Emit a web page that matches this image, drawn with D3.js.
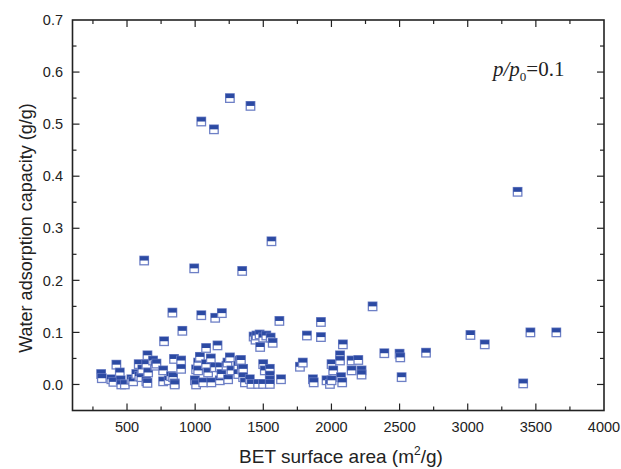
<!DOCTYPE html>
<html>
<head>
<meta charset="utf-8">
<script src="https://cdn.jsdelivr.net/npm/d3@7"></script>
<style>
  html, body { margin: 0; padding: 0; background: #fff; }
  svg { display: block; }
</style>
</head>
<body>
<svg id="chart" width="621" height="469"></svg>
<script>
// BET surface area (m2/g)
const betArea = [
  310, 315, 385, 400, 422, 447, 454, 458, 484, 532, 545, 568, 586, 590, 605, 612, 626, 642, 642, 650, 655, 650, 691, 708, 716,
  765, 765, 772, 806, 823, 833, 838, 845, 850, 850, 897, 897, 906,
  993, 998, 1007, 1007, 1022, 1022, 1035, 1045, 1045, 1059, 1080, 1080, 1095, 1115, 1119, 1138, 1144, 1147, 1164, 1181, 1181, 1193, 1196, 1230, 1237, 1242, 1255, 1255,
  1266, 1316, 1316, 1328, 1336, 1342, 1345, 1352, 1352, 1365, 1401, 1406, 1413, 1429, 1443, 1450, 1462, 1473, 1477, 1499, 1499, 1499, 1511, 1522, 1548, 1548, 1548, 1548, 1554, 1560, 1569, 1618, 1630,
  1769, 1790, 1820, 1864, 1870, 1923, 1923, 1964, 1989, 2001, 2001, 2013, 2063, 2063, 2070, 2079, 2084, 2148, 2148, 2197, 2221, 2221, 2302,
  2388, 2500, 2505, 2515, 2694, 3020, 3125, 3366, 3407, 3460, 3650
];
// Water adsorption capacity (g/g) at p/p0 = 0.1
const waterUptake = [
  0.020, 0.012, 0.010, 0.005, 0.038, 0.023, 0.008, 0.000, 0.000, 0.010, 0.006, 0.020, 0.039, 0.016, 0.014, 0.029, 0.238, 0.039, 0.006, 0.056, 0.023, 0.003, 0.046, 0.036, 0.040,
  0.027, 0.006, 0.083, 0.008, 0.016, 0.138, 0.014, 0.049, 0.002, 0.000, 0.046, 0.030, 0.103,
  0.223, 0.008, 0.029, 0.000, 0.042, 0.027, 0.053, 0.505, 0.133, 0.004, 0.070, 0.039, 0.023, 0.050, 0.004, 0.490, 0.033, 0.128, 0.075, 0.033, 0.008, 0.020, 0.137, 0.036, 0.042, 0.010, 0.550, 0.052,
  0.027, 0.036, 0.020, 0.046, 0.047, 0.029, 0.218, 0.030, 0.014, 0.004, 0.010, 0.535, 0.001, 0.092, 0.086, 0.094, 0.001, 0.096, 0.072, 0.090, 0.039, 0.001, 0.027, 0.094, 0.030, 0.017, 0.008, 0.001, 0.090, 0.275, 0.080, 0.122, 0.010,
  0.034, 0.042, 0.094, 0.010, 0.004, 0.120, 0.091, 0.008, 0.001, 0.039, 0.008, 0.027, 0.056, 0.046, 0.014, 0.004, 0.077, 0.046, 0.027, 0.047, 0.027, 0.019, 0.150,
  0.060, 0.059, 0.052, 0.014, 0.061, 0.095, 0.077, 0.370, 0.002, 0.100, 0.100
];
const xMajorTicks = [500, 1000, 1500, 2000, 2500, 3000, 3500, 4000];
const xMinorTicks = [250, 750, 1250, 1750, 2250, 2750, 3250, 3750];
const yMajorTicks = [0.0, 0.1, 0.2, 0.3, 0.4, 0.5, 0.6, 0.7];
const yMinorTicks = [-0.05, 0.05, 0.15, 0.25, 0.35, 0.45, 0.55, 0.65];
const xTitle = "BET surface area (m";
const yTitle = "Water adsorption capacity (g/g)";

const points = betArea.map((x, i) => ({ x, y: waterUptake[i] }));

const svg = d3.select("#chart");
const pLeft = 72.5, pRight = 604, pTop = 20, pBottom = 410.5;
const x = d3.scaleLinear().domain([100, 4000]).range([pLeft, pRight]);
const y = d3.scaleLinear().domain([-0.05, 0.7]).range([pBottom, pTop]);

const font = "'Liberation Sans', Arial, Helvetica, sans-serif";
const textColor = "#222";
const majorLen = 7, minorLen = 4;

// ticks (inward, all four sides)
const tickG = svg.append("g").attr("stroke", "#222").attr("stroke-width", 1.2);
function hTicks(vals, len) {
  vals.forEach(v => {
    const px = x(v);
    tickG.append("line").attr("x1", px).attr("x2", px).attr("y1", pBottom).attr("y2", pBottom - len);
    tickG.append("line").attr("x1", px).attr("x2", px).attr("y1", pTop).attr("y2", pTop + len);
  });
}
function vTicks(vals, len) {
  vals.forEach(v => {
    const py = y(v);
    tickG.append("line").attr("x1", pLeft).attr("x2", pLeft + len).attr("y1", py).attr("y2", py);
    tickG.append("line").attr("x1", pRight).attr("x2", pRight - len).attr("y1", py).attr("y2", py);
  });
}
hTicks(xMajorTicks.filter(v => v < 4000), majorLen);
hTicks(xMinorTicks, minorLen);
vTicks(yMajorTicks.filter(v => v < 0.7), majorLen);
vTicks(yMinorTicks.filter(v => v > -0.05), minorLen);

// tick labels
svg.append("g").selectAll("text").data(xMajorTicks).join("text")
  .attr("x", d => x(d)).attr("y", 432)
  .attr("text-anchor", "middle")
  .attr("font-family", font).attr("font-size", 14.5).attr("fill", textColor)
  .text(d => d);
svg.append("g").selectAll("text").data(yMajorTicks).join("text")
  .attr("x", 63).attr("y", d => y(d)).attr("dy", "0.36em")
  .attr("text-anchor", "end")
  .attr("font-family", font).attr("font-size", 14.5).attr("fill", textColor)
  .text(d => d3.format(".1f")(d));

// axis titles
const xt = svg.append("text")
  .attr("x", 341).attr("y", 463)
  .attr("text-anchor", "middle")
  .attr("font-family", font).attr("font-size", 19).attr("fill", textColor);
xt.append("tspan").text(xTitle);
xt.append("tspan").attr("font-size", 12).attr("dy", -8).text("2");
xt.append("tspan").attr("dy", 8).text("/g)");

svg.append("text")
  .attr("transform", "translate(32,228) rotate(-90)")
  .attr("text-anchor", "middle")
  .attr("font-family", font).attr("font-size", 18).attr("fill", textColor)
  .text(yTitle);

// annotation p/p0=0.1
const serif = "'Liberation Serif', 'Times New Roman', serif";
const ann = svg.append("text")
  .attr("x", 493).attr("y", 76)
  .attr("font-family", serif).attr("font-size", 21).attr("fill", "#222");
ann.append("tspan").attr("font-style", "italic").text("p/p");
ann.append("tspan").attr("font-size", 13).attr("dy", 5).text("0");
ann.append("tspan").attr("dy", -5).text("=0.1");

// markers: half-filled squares
const s = 8.5;
const mk = svg.append("g").selectAll("g").data(points).join("g")
  .attr("transform", d => `translate(${x(d.x)},${y(d.y)})`);
mk.append("rect")
  .attr("x", -s / 2).attr("y", -s / 2).attr("width", s).attr("height", s)
  .attr("fill", "#fff").attr("stroke", "#6e80c6").attr("stroke-width", 1.3);
mk.append("rect")
  .attr("x", -s / 2).attr("y", -s / 2).attr("width", s).attr("height", s * 0.5)
  .attr("fill", "#2c4aa3");

// frame
svg.append("rect")
  .attr("x", pLeft).attr("y", pTop).attr("width", pRight - pLeft).attr("height", pBottom - pTop)
  .attr("fill", "none").attr("stroke", "#222").attr("stroke-width", 1.6);
</script>
</body>
</html>
